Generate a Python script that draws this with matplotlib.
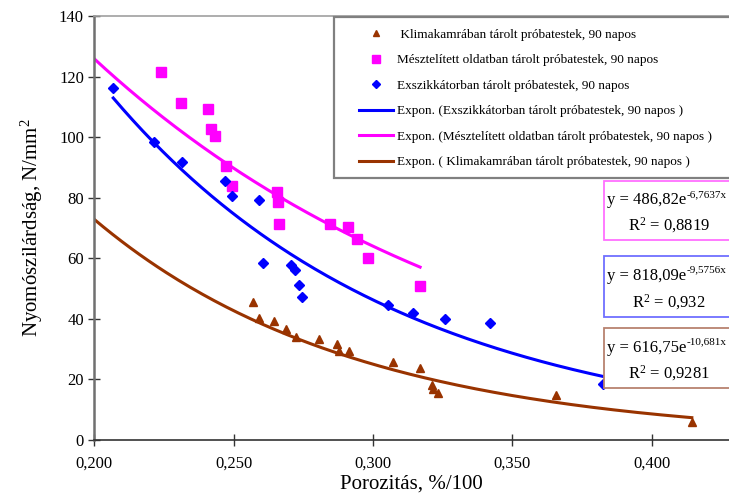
"""
plot.py
=======
Nyomószilárdság vs. porozitás, 90 napos próbatestek, exponenciális trendvonalakkal.
Saves out.png (729x495).
"""
import numpy as np
import matplotlib
matplotlib.use("Agg")
import matplotlib.pyplot as plt
from matplotlib.patches import Rectangle
from matplotlib.text import Annotation

# --------------------------------------------------------------------------
# DATA
# --------------------------------------------------------------------------
# Exszikkátorban tárolt próbatestek
exsz_x = [0.2068, 0.2214, 0.2314, 0.2469, 0.2495, 0.2592, 0.2606, 0.2705,
          0.2720, 0.2734, 0.2744, 0.3054, 0.3142, 0.3258, 0.3420, 0.3824]
exsz_y = [116.3, 98.3, 91.7, 85.6, 80.6, 79.2, 58.5, 57.8,
          56.1, 51.2, 47.3, 44.6, 42.0, 39.8, 38.7, 18.5]

# Mésztelített oldatban tárolt próbatestek
mesz_x = [0.2238, 0.2310, 0.2409, 0.2418, 0.2433, 0.2471, 0.2493, 0.2656,
          0.2659, 0.2663, 0.2846, 0.2911, 0.2942, 0.2983, 0.3169]
mesz_y = [121.5, 111.2, 109.2, 102.7, 100.5, 90.5, 84.0, 82.0,
          78.6, 71.3, 71.3, 70.4, 66.3, 60.0, 50.8]

# Klimakamrában tárolt próbatestek
klima_x = [0.2568, 0.2592, 0.2646, 0.2687, 0.2724, 0.2806, 0.2870, 0.2878,
           0.2915, 0.3071, 0.3169, 0.3211, 0.3216, 0.3234, 0.3657, 0.4144]
klima_y = [45.7, 40.2, 39.3, 36.6, 33.9, 33.2, 31.7, 29.4,
           29.4, 25.9, 23.9, 18.2, 16.7, 15.6, 14.9, 6.0]

# exponential trendlines y = a*exp(b*x) as printed on the chart
exsz_fit = (818.09, -9.5756)
mesz_fit = (486.82, -6.7637)
klima_fit = (616.75, -10.681)

# printed equation texts: base, exponent, R^2
exsz_eq = ("y = 818,09e", "-9,5756x", "0,932")
mesz_eq = ("y = 486,82e", "-6,7637x", "0,8819")
klima_eq = ("y = 616,75e", "-10,681x", "0,9281")

# trendline x ranges (magenta and brown are drawn back to the y axis)
exsz_rng = (min(exsz_x), max(exsz_x))
mesz_rng = (0.200, max(mesz_x))
klima_rng = (0.200, max(klima_x))

x_ticks = [0.200, 0.250, 0.300, 0.350, 0.400]
x_ticklabels = ["0,200", "0,250", "0,300", "0,350", "0,400"]
y_ticks = [0, 20, 40, 60, 80, 100, 120, 140]

label_klima = "Klimakamrában tárolt próbatestek, 90 napos"
label_mesz = "Mésztelített oldatban tárolt próbatestek, 90 napos"
label_exsz = "Exszikkátorban tárolt próbatestek, 90 napos"

# --------------------------------------------------------------------------
# STYLE
# --------------------------------------------------------------------------
SERIF = "Liberation Serif"
plt.rcParams["font.family"] = [SERIF, "DejaVu Serif"]
plt.rcParams["mathtext.fontset"] = "custom"
plt.rcParams["mathtext.rm"] = SERIF
plt.rcParams["mathtext.it"] = SERIF + ":italic"

BLUE = "#0000ff"
MAGENTA = "#ff00ff"
BROWN = "#993300"

W, H = 729, 495


def fx(px):
    return px / W


def fy(py):
    return 1 - py / H


def trend(fit, rng):
    a, b = fit
    xs = np.linspace(rng[0], rng[1], 200)
    return xs, a * np.exp(b * xs)


fig = plt.figure(figsize=(W / 100, H / 100), dpi=100)
ax = fig.add_axes([fx(94.3), 55 / H, 1 - fx(94.3), (440 - 16) / H])

# markers
h_klima, = ax.plot(klima_x, klima_y, ls="none", marker="^", ms=5.5,
                   color=BROWN, mec=BROWN)
h_mesz, = ax.plot(mesz_x, mesz_y, ls="none", marker="s", ms=7,
                  color=MAGENTA, mec=MAGENTA)
h_exsz, = ax.plot(exsz_x, exsz_y, ls="none", marker="D", ms=5.5,
                  color=BLUE, mec=BLUE)

# trendlines
tx, ty = trend(exsz_fit, exsz_rng)
l_exsz, = ax.plot(tx, ty, color=BLUE, lw=2.2)
tx, ty = trend(mesz_fit, mesz_rng)
l_mesz, = ax.plot(tx, ty, color=MAGENTA, lw=2.2)
tx, ty = trend(klima_fit, klima_rng)
l_klima, = ax.plot(tx, ty, color=BROWN, lw=2.2)

ax.set_xlim(0.200, 0.200 + (W - 94.3) / 2787)
ax.set_ylim(0, 140)
ax.set_xticks(x_ticks)
ax.set_xticklabels(x_ticklabels)
ax.set_yticks(y_ticks)
ax.tick_params(axis="both", direction="inout", length=9, width=1,
               color="#333333", labelsize=12)
ax.tick_params(axis="x", pad=7)
ax.tick_params(axis="y", pad=3)

ax.spines["right"].set_visible(False)
ax.spines["top"].set_color("#a0a0a0")
ax.spines["top"].set_linewidth(1.2)
ax.spines["left"].set_color("#707070")
ax.spines["left"].set_linewidth(1.8)
ax.spines["bottom"].set_color("#333333")
ax.spines["bottom"].set_linewidth(1.2)

ax.set_xlabel("Porozitás, %/100", fontsize=15, labelpad=2)
ax.set_ylabel("Nyomószilárdság, N/mm$^2$", fontsize=15, labelpad=10)

# --------------------------------------------------------------------------
# LEGEND (own frame, legend itself unframed)
# --------------------------------------------------------------------------
fig.add_artist(Rectangle((fx(334), fy(178)), fx(745 - 334), (178 - 17) / H,
                         transform=fig.transFigure, facecolor="white",
                         edgecolor="#808080", lw=1.6, zorder=3))

handles = [h_klima, h_mesz, h_exsz, l_exsz, l_mesz, l_klima]
labels = [" " + label_klima, label_mesz, label_exsz,
          f"Expon. ({label_exsz} )", f"Expon. ({label_mesz} )",
          f"Expon. ( {label_klima} )"]
leg = fig.legend(handles, labels, loc="center left",
                 bbox_to_anchor=(fx(359), fy(98.5)), frameon=False,
                 fontsize=9.5, borderpad=0, borderaxespad=0,
                 handlelength=2.6, handletextpad=0.3, labelspacing=1.0,
                 markerscale=0.75)
leg.set_zorder(5)

# --------------------------------------------------------------------------
# EQUATION BOXES
# --------------------------------------------------------------------------
boxes = [
    (mesz_eq, "#ff70ff", 181, 240),
    (exsz_eq, "#6f6fff", 256, 317),
    (klima_eq, "#b88270", 328, 388),
]
for (base, expo, r2), edge, top, bot in boxes:
    fig.add_artist(Rectangle((fx(604), fy(bot)), fx(745 - 604), (bot - top) / H,
                             transform=fig.transFigure, facecolor="white",
                             edgecolor=edge, lw=1.3, zorder=3))
    row1 = top + (bot - top) * 0.33
    row2 = top + (bot - top) * 0.75
    t = fig.text(fx(607), fy(row1), base, fontsize=12, ha="left",
                 va="center", zorder=6)
    sup = Annotation(expo, xy=(1.0, 0.6), xycoords=t, fontsize=8,
                     ha="left", va="bottom", annotation_clip=False)
    sup.set_zorder(6)
    fig.add_artist(sup)
    fig.text(fx(669), fy(row2), f"R$^2$ = {r2}", fontsize=12,
             ha="center", va="center", zorder=6)

fig.savefig("out.png", dpi=100)
plt.close(fig)
